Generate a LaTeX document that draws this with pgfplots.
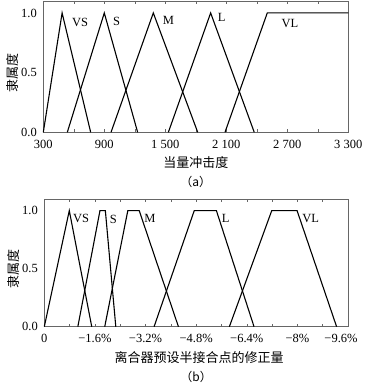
\documentclass[border=0pt]{standalone}
\usepackage{fontspec}
\setmainfont{Liberation Serif}
\newfontfamily\cjk{Noto Sans CJK SC}
\usepackage{pgfplots}
\pgfplotsset{compat=1.18}
\newcommand{\fs}{\fontsize{12.5}{14}\selectfont}
\pgfplotsset{mfl/.style={black, line width=1.1pt, mark=none}}
\pgfplotsset{mf/.style={
  scale only axis, clip=false,
  axis line style={black!60, line width=0.5pt},
  tick align=inside,
  tick style={black!60, line width=0.5pt},
  major tick length=3pt, minor tick length=3pt,
  ymin=0, ymax=1.1, ytick={0,0.5,1}, yticklabels={0.0,0.5,1.0},
  ytick style={draw=none},
  tick label style={font=\fs},
  xticklabel style={yshift=-4pt},
  yticklabel style={xshift=-3pt},
  ylabel style={at={(axis description cs:-0.1,0.45)}, anchor=center, rotate=0},
  /pgf/number format/assume math mode=true,
}}
\begin{document}
\begin{tikzpicture}
\path[use as bounding box] (0pt,0pt) rectangle (368pt,-385pt);
\begin{axis}[mf, at={(43.3pt,-132.3pt)}, anchor=south west,
  width=305pt, height=131.3pt,
  xmin=300, xmax=3300,
  xtick={300,900,1500,2100,2700,3300},
  xticklabels={300,900,1~500,2~100,2~700,3~300},
  minor xtick={600,1200,1800,2400,3000},
  xlabel={\cjk\fontsize{13}{15}\selectfont 当量冲击度},
  xlabel style={at={(axis description cs:0.5,-0.234)}, anchor=center},
  ylabel={\cjk\fontsize{13}{15}\selectfont 隶属度},
]
\addplot[mfl] coordinates {(300,0)(485,1)(766,0)};
\addplot[mfl] coordinates {(536,0)(900,1)(1228,0)};
\addplot[mfl] coordinates {(966,0)(1382,1)(1819,0)};
\addplot[mfl] coordinates {(1530,0)(1946,1)(2375,0)};
\addplot[mfl] coordinates {(2087,0)(2503,1)(3300,1)};
\node[font=\fs] at (axis cs:661,0.92) {VS};
\node[font=\fs] at (axis cs:1022,0.93) {S};
\node[font=\fs] at (axis cs:1530,0.94) {M};
\node[font=\fs] at (axis cs:2055,0.96) {L};
\node[font=\fs] at (axis cs:2727,0.91) {VL};
\node at (axis description cs:0.5,-0.376) {\cjk\fontsize{12}{14}\selectfont （a）};
\end{axis}
\begin{axis}[mf, at={(44.3pt,-326.7pt)}, anchor=south west,
  width=303.7pt, height=127.7pt,
  xmin=0, xmax=9.6,
  xtick={0,1.6,3.2,4.8,6.4,8,9.6},
  xticklabels={0,−1.6\%,−3.2\%,−4.8\%,−6.4\%,−8\%,\hspace*{-14pt}−9.6\%},
  minor xtick={0.8,2.4,4,5.6,7.2,8.8},
  xlabel={\cjk\fontsize{13}{15}\selectfont 离合器预设半接合点的修正量},
  xlabel style={at={(axis description cs:0.51,-0.245)}, anchor=center},
  ylabel={\cjk\fontsize{13}{15}\selectfont 隶属度},
]
\addplot[mfl] coordinates {(0,0)(0.79,1)(1.50,0)};
\addplot[mfl] coordinates {(1.06,0)(1.76,1)(1.93,1)(2.26,0)};
\addplot[mfl] coordinates {(1.91,0)(2.64,1)(3.0,1)(4.24,0)};
\addplot[mfl] coordinates {(3.47,0)(4.74,1)(5.44,1)(6.63,0)};
\addplot[mfl] coordinates {(5.85,0)(7.19,1)(7.99,1)(9.24,0)};
\node[font=\fs] at (axis cs:1.16,0.93) {VS};
\node[font=\fs] at (axis cs:2.18,0.92) {S};
\node[font=\fs] at (axis cs:3.34,0.93) {M};
\node[font=\fs] at (axis cs:5.73,0.93) {L};
\node[font=\fs] at (axis cs:8.42,0.93) {VL};
\node at (axis description cs:0.5,-0.392) {\cjk\fontsize{12}{14}\selectfont （b）};
\end{axis}
\end{tikzpicture}
\end{document}
